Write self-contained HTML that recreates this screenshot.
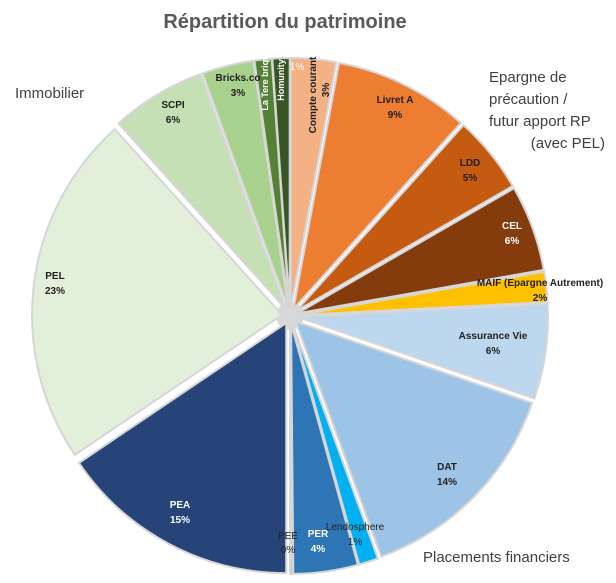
<!DOCTYPE html>
<html><head><meta charset="utf-8"><style>
body{margin:0;background:#fff;}
svg{display:block;font-family:"Liberation Sans",sans-serif;}
</style></head><body>
<svg id="s" width="616" height="583" viewBox="0 0 616 583">
<rect width="616" height="583" fill="#fff"/>
<circle cx="290" cy="316" r="14" fill="#d9d9d9"/>
<g id="g"></g>
<text x="285" y="28" text-anchor="middle" font-size="20" font-weight="bold" fill="#595959">Répartition du patrimoine</text>
<text x="15" y="98" font-size="15" fill="#404040">Immobilier</text>
<g font-size="15" fill="#404040">
<text x="489" y="82">Epargne de</text>
<text x="489" y="104">précaution /</text>
<text x="489" y="126">futur apport RP</text>
<text x="605" y="148" text-anchor="end">(avec PEL)</text>
<text x="423" y="562">Placements financiers</text>
</g>
<g font-size="10" font-weight="bold" text-anchor="middle" fill="#222">
<text x="395" y="103">Livret A</text><text x="395" y="118">9%</text>
<text x="470" y="166">LDD</text><text x="470" y="181">5%</text>
<text x="512" y="229" fill="#fff">CEL</text><text x="512" y="244" fill="#fff">6%</text>
<text x="540" y="286">MAIF (Epargne Autrement)</text><text x="540" y="301">2%</text>
<text x="493" y="339">Assurance Vie</text><text x="493" y="354">6%</text>
<text x="447" y="470">DAT</text><text x="447" y="485">14%</text>
<text x="355" y="530" font-weight="normal">Lendosphere</text><text x="355" y="545" font-weight="normal">1%</text>
<text x="318" y="537" fill="#fff">PER</text><text x="318" y="552" fill="#fff">4%</text>
<text x="288" y="539" font-weight="normal">PEE</text><text x="288" y="553" font-weight="normal">0%</text>
<text x="180" y="508" fill="#fff">PEA</text><text x="180" y="523" fill="#fff">15%</text>
<text x="55" y="279">PEL</text><text x="55" y="294">23%</text>
<text x="173" y="108">SCPI</text><text x="173" y="123">6%</text>
<text x="238" y="81">Bricks.co</text><text x="238" y="96">3%</text>
<text x="297" y="70" fill="#fff" font-weight="normal">1%</text>
<text transform="translate(316,95) rotate(-90)">Compte courant</text>
<text transform="translate(329,90) rotate(-90)">3%</text>
<text transform="translate(268,80) rotate(-90)" fill="#fff" font-size="9">La Tere brique</text>
<text transform="translate(284,80) rotate(-90)" fill="#fff" font-size="9">Homunity</text>
</g>
</svg>
<script>
var d=[[0,10.5,"#f4b183"],[10.5,42,"#ed7d31"],[42,60,"#c55a11"],[60,80,"#843c0c"],[80,87,"#ffc000"],[87,109,"#bdd7ee"],[109,160,"#9dc3e6"],[160,164.5,"#00b0f0"],[164.5,179.5,"#2e75b6"],[179.5,180,"#1f4e79"],[180,236,"#264478"],[236,318,"#e2efda"],[318,340,"#c5e0b4"],[340,352,"#a9d18e"],[352,356,"#548235"],[356,360,"#375623"]];
var cx=290,cy=316,r=250,e=8,s="";
function p(a,rr,ox,oy){a=a*Math.PI/180;return (ox+rr*Math.sin(a)).toFixed(1)+","+(oy-rr*Math.cos(a)).toFixed(1);}
d.forEach(function(q){var m=(q[0]+q[1])/2*Math.PI/180;var ox=cx+e*Math.sin(m),oy=cy-e*Math.cos(m);
var la=(q[1]-q[0])>180?1:0;
s+='<path d="M'+ox.toFixed(1)+','+oy.toFixed(1)+' L'+p(q[0],r,ox,oy)+' A'+r+','+r+' 0 '+la+' 1 '+p(q[1],r,ox,oy)+' Z" fill="'+q[2]+'" stroke="#d6d6d6" stroke-width="2"/>';});
document.getElementById("g").innerHTML=s;
</script>
</body></html>
